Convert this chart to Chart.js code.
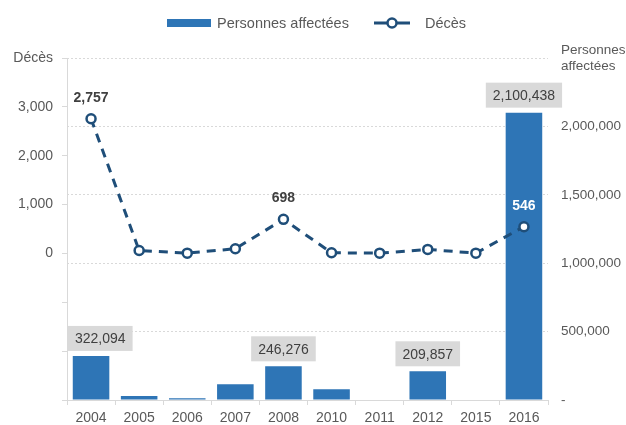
<!DOCTYPE html>
<html>
<head>
<meta charset="utf-8">
<script src="https://cdn.jsdelivr.net/npm/chart.js@4.4.1/dist/chart.umd.min.js"></script>
<style>
  html, body { margin: 0; padding: 0; background: #fff; }
  #wrap { position: relative; width: 626px; height: 425px; }
  #legend {
    position: absolute; top: 14px; left: 167px;
    display: flex; align-items: center; height: 18px;
    font: 14.5px "Liberation Sans", Arial, sans-serif; color: #595959;
  }
  #legend .box { width: 44px; height: 8px; background: #2e75b6; margin-right: 6px; }
  #legend canvas { margin-left: 25px; margin-right: 15px; }
</style>
</head>
<body>
<div id="wrap">
  <canvas id="chart" width="626" height="425"></canvas>
  <div id="legend"></div>
</div>
<script>
// data
var years = ['2004', '2005', '2006', '2007', '2008', '2010', '2011', '2012', '2015', '2016'];
var affected = [322094, 29000, 12000, 115000, 246276, 78000, 0, 209857, 0, 2100438];
var deaths = [2757, 60, 6, 96, 698, 14, 6, 82, 6, 546];
var seriesNames = ['Personnes affectées', 'Décès'];

var deathTicks = [0, 1000, 2000, 3000];
var leftTitle = 'Décès';
var rightTitle = ['Personnes', 'affectées'];
var barLabelYears = ['2004', '2008', '2012', '2016'];
var deathLabelYears = ['2004', '2008', '2016'];

var barColor = '#2e75b6';
var lineColor = '#1f4e79';
var textColor = '#595959';
var FONT = '"Liberation Sans", Arial, sans-serif';

function fmt(v) { return v.toLocaleString('en-US'); }

// legend
var legend = document.getElementById('legend');
var box = document.createElement('span');
box.className = 'box';
legend.appendChild(box);
legend.appendChild(document.createTextNode(seriesNames[0]));
var mk = document.createElement('canvas');
mk.width = 36; mk.height = 14;
var mctx = mk.getContext('2d');
mctx.strokeStyle = lineColor;
mctx.lineWidth = 3;
mctx.beginPath(); mctx.moveTo(0, 7); mctx.lineTo(36, 7); mctx.stroke();
mctx.beginPath(); mctx.arc(18, 7, 4.5, 0, Math.PI * 2);
mctx.fillStyle = '#fff'; mctx.fill();
mctx.lineWidth = 2.5; mctx.stroke();
legend.appendChild(mk);
legend.appendChild(document.createTextNode(seriesNames[1]));

// value labels drawn after the datasets
var valueLabels = {
  id: 'valueLabels',
  afterDatasetsDraw: function(chart) {
    var ctx = chart.ctx;
    var area = chart.chartArea;
    var bars = chart.getDatasetMeta(0).data;
    var pts = chart.getDatasetMeta(1).data;
    ctx.save();
    ctx.textAlign = 'center';
    ctx.textBaseline = 'middle';

    ctx.font = '14px ' + FONT;
    years.forEach(function(y, i) {
      if (barLabelYears.indexOf(y) < 0) return;
      var bar = bars[i];
      var txt = fmt(affected[i]);
      var w = ctx.measureText(txt).width + 14;
      var h = 25;
      var cx = Math.max(bar.x, area.left + 1 + w / 2);
      var bottom = bar.y - 5;
      ctx.fillStyle = '#d9d9d9';
      ctx.fillRect(cx - w / 2, bottom - h, w, h);
      ctx.fillStyle = '#404040';
      ctx.fillText(txt, cx, bottom - h / 2 + 1);
    });

    ctx.font = 'bold 14px ' + FONT;
    years.forEach(function(y, i) {
      if (deathLabelYears.indexOf(y) < 0) return;
      var p = pts[i];
      var ty = p.y - 21;
      ctx.fillStyle = bars[i].y < ty - 8 ? '#ffffff' : '#404040';
      ctx.fillText(fmt(deaths[i]), p.x, ty);
    });
    ctx.restore();
  }
};

Chart.defaults.font.family = FONT;
Chart.defaults.font.size = 14;
Chart.defaults.color = textColor;

new Chart(document.getElementById('chart'), {
  type: 'bar',
  data: {
    labels: years,
    datasets: [{
      type: 'bar',
      label: seriesNames[0],
      data: affected,
      yAxisID: 'y1',
      backgroundColor: barColor,
      barPercentage: 0.76,
      categoryPercentage: 1,
      order: 2
    }, {
      type: 'line',
      label: seriesNames[1],
      data: deaths,
      yAxisID: 'y',
      borderColor: lineColor,
      borderWidth: 3,
      borderDash: [9, 7],
      pointRadius: 4.5,
      pointBorderWidth: 2.5,
      pointBackgroundColor: '#ffffff',
      pointBorderColor: lineColor,
      tension: 0,
      order: 1
    }]
  },
  options: {
    responsive: false,
    animation: false,
    devicePixelRatio: 1,
    layout: { padding: { top: 58, left: 4, right: 0, bottom: 0 } },
    plugins: {
      legend: { display: false },
      tooltip: { enabled: false }
    },
    scales: {
      x: {
        offset: true,
        grid: { drawOnChartArea: false, offset: true, tickLength: 5, color: '#d9d9d9' },
        border: { color: '#d9d9d9' },
        ticks: { padding: 5, maxRotation: 0, autoSkip: false },
        afterFit: function(scale) { scale.height = 25; }
      },
      y: {
        position: 'left',
        min: -3000,
        max: 4000,
        grid: { drawOnChartArea: false, tickLength: 5, color: '#d9d9d9' },
        border: { color: '#d9d9d9' },
        ticks: {
          stepSize: 1000,
          padding: 9,
          callback: function(v) {
            if (v === 4000) return leftTitle;
            return deathTicks.indexOf(v) >= 0 ? fmt(v) : '';
          }
        },
        afterFit: function(scale) { scale.width = 63; }
      },
      y1: {
        position: 'right',
        min: 0,
        max: 2500000,
        grid: { color: '#d9d9d9', drawTicks: false },
        border: { display: false, dash: [2, 2] },
        ticks: {
          stepSize: 500000,
          padding: 13,
          font: { size: 13.5 },
          callback: function(v) {
            if (v === 2500000) return rightTitle;
            if (v === 0) return '-';
            return fmt(v);
          }
        },
        afterFit: function(scale) { scale.width = 78; }
      }
    }
  },
  plugins: [valueLabels]
});
</script>
</body>
</html>
